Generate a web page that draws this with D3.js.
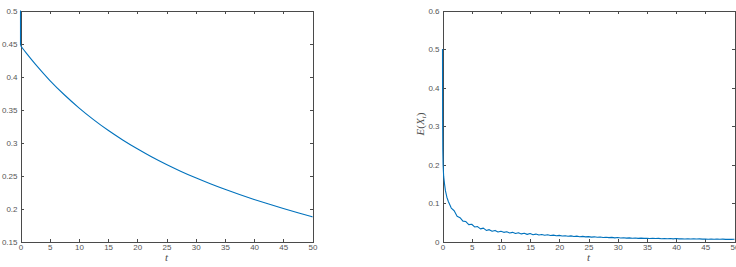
<!DOCTYPE html>
<html>
<head>
<meta charset="utf-8">
<script src="https://cdn.jsdelivr.net/npm/d3@7"></script>
<style>
  body { margin: 0; background: #fff; }
  .axis text { font: 8px "Liberation Sans", Arial, sans-serif; fill: #555; }
  .axis path, .axis line { stroke: #4a4a4a; stroke-width: 1px; shape-rendering: crispEdges; }
  .lab { font-family: "Liberation Serif", "DejaVu Serif", serif; font-style: italic; fill: #4d4d4d; }
</style>
</head>
<body>
<svg id="chart" width="736" height="267"></svg>
<script>
// tick labels
var xTicks = [0, 5, 10, 15, 20, 25, 30, 35, 40, 45, 50];
var leftYTicks = [0.15, 0.2, 0.25, 0.3, 0.35, 0.4, 0.45, 0.5];
var rightYTicks = [0, 0.1, 0.2, 0.3, 0.4, 0.5, 0.6];

// left panel: initial value, then smooth decay
var leftInitial = 0.5;
var leftT = [0, 1, 2.5, 5, 7.5, 10, 12.5, 15, 17.5, 20, 22.5, 25, 27.5, 30, 32.5, 35, 37.5, 40, 42.5, 45, 47.5, 50];
var leftV = [0.447, 0.4355, 0.4192, 0.3945, 0.3726, 0.3529, 0.3351, 0.3189, 0.3043, 0.2909, 0.2785, 0.2672,
             0.2567, 0.2470, 0.2380, 0.2296, 0.2218, 0.2144, 0.2074, 0.2007, 0.1942, 0.1880];

// right panel: noisy E(X_t), first part sampled finely
var rightHeadT = [0, 0.02, 0.05, 0.1, 0.2, 0.35, 0.5, 0.75];
var rightHeadV = [0.5, 0.32, 0.24, 0.2, 0.17, 0.15, 0.133, 0.116];
// then every 0.5 from t = 1 to t = 50
var rightStep = 0.5, rightStart = 1;
var rightTailV = [
  0.105, 0.088, 0.081, 0.067, 0.063, 0.054, 0.053, 0.045, 0.046, 0.039,
  0.040, 0.034, 0.036, 0.030, 0.032, 0.028, 0.030, 0.026, 0.028, 0.025,
  0.0265, 0.0235, 0.025, 0.022, 0.0238, 0.021, 0.0225, 0.0198, 0.0218, 0.019,
  0.0205, 0.0182, 0.0196, 0.0175, 0.0187, 0.0168, 0.0178, 0.0160, 0.0171, 0.0155,
  0.0164, 0.0149, 0.0158, 0.0143, 0.0152, 0.0138, 0.0146, 0.0132, 0.0140, 0.0127,
  0.0134, 0.0122, 0.0129, 0.0117, 0.0124, 0.0113, 0.0119, 0.0108, 0.0115, 0.0105,
  0.0111, 0.0101, 0.0108, 0.0099, 0.0104, 0.0095, 0.0101, 0.0093, 0.0098, 0.0090,
  0.0097, 0.0089, 0.0094, 0.0086, 0.0092, 0.0085, 0.0090, 0.0082, 0.0089, 0.0081,
  0.0086, 0.0079, 0.0084, 0.0077, 0.0082, 0.0076, 0.0081, 0.0074, 0.0079, 0.0073,
  0.0077, 0.0071, 0.0076, 0.0070, 0.0074, 0.0069, 0.0073, 0.0067, 0.0071
];

var svg = d3.select("#chart");
var lineColor = "#0072BD";

function drawPanel(x0, x1, yDomain, yTicks, series, curve, yLabelX) {
  var x = d3.scaleLinear().domain([0, 50]).range([x0, x1]),
      y = d3.scaleLinear().domain(yDomain).range([242, 10.5]);

  var g = svg.append("g");

  // top and right mirror axes, inward ticks, no labels
  g.append("g").attr("class", "axis")
      .attr("transform", "translate(0," + y.range()[1] + ")")
      .call(d3.axisBottom(x).tickValues(xTicks).tickSizeInner(3).tickSizeOuter(0).tickFormat(""));
  g.append("g").attr("class", "axis")
      .attr("transform", "translate(" + x1 + ",0)")
      .call(d3.axisLeft(y).tickValues(yTicks).tickSizeInner(3).tickSizeOuter(0).tickFormat(""));

  // bottom and left axes
  g.append("g").attr("class", "axis")
      .attr("transform", "translate(0," + y.range()[0] + ")")
      .call(d3.axisBottom(x).tickValues(xTicks).tickSizeInner(-3).tickSizeOuter(0).tickPadding(2));
  g.append("g").attr("class", "axis")
      .attr("transform", "translate(" + x0 + ",0)")
      .call(d3.axisLeft(y).tickValues(yTicks).tickSizeInner(-3).tickSizeOuter(0).tickPadding(3)
        .tickFormat(function(d) { return String(d); }));

  var line = d3.line()
      .x(function(d) { return x(d[0]); })
      .y(function(d) { return y(d[1]); });

  series.forEach(function(s) {
    g.append("path")
        .datum(s.data)
        .attr("fill", "none")
        .attr("stroke", lineColor)
        .attr("stroke-width", 1.1)
        .attr("stroke-linejoin", "round")
        .attr("d", line.curve(s.curve)(s.data));
  });

  // x label
  g.append("text").attr("class", "lab")
      .attr("x", (x0 + x1) / 2).attr("y", 261)
      .attr("text-anchor", "middle")
      .style("font-size", "11px")
      .text("t");

  // y label E(X_t)
  var yl = g.append("text").attr("class", "lab")
      .attr("transform", "translate(" + yLabelX + ",124) rotate(-90)")
      .attr("text-anchor", "middle")
      .style("font-size", "11px");
  yl.append("tspan").text("E");
  yl.append("tspan").style("font-style", "normal").text("(");
  yl.append("tspan").text("X");
  yl.append("tspan").attr("dy", 2).style("font-size", "7px").text("t");
  yl.append("tspan").attr("dy", -2).style("font-style", "normal").text(")");
}

var leftData = leftT.map(function(t, i) { return [t, leftV[i]]; });
var leftJump = [[leftT[0], leftInitial], [leftT[0], leftV[0]]];
var rightData = rightHeadT.map(function(t, i) { return [t, rightHeadV[i]]; })
  .concat(rightTailV.map(function(v, i) { return [rightStart + i * rightStep, v]; }));

drawPanel(20.5, 312.5, [0.15, 0.5], leftYTicks,
  [{data: leftJump, curve: d3.curveLinear}, {data: leftData, curve: d3.curveMonotoneX}], null, -4);
drawPanel(442.5, 734.5, [0, 0.6], rightYTicks,
  [{data: rightData, curve: d3.curveLinear}], null, 424);
</script>
</body>
</html>
